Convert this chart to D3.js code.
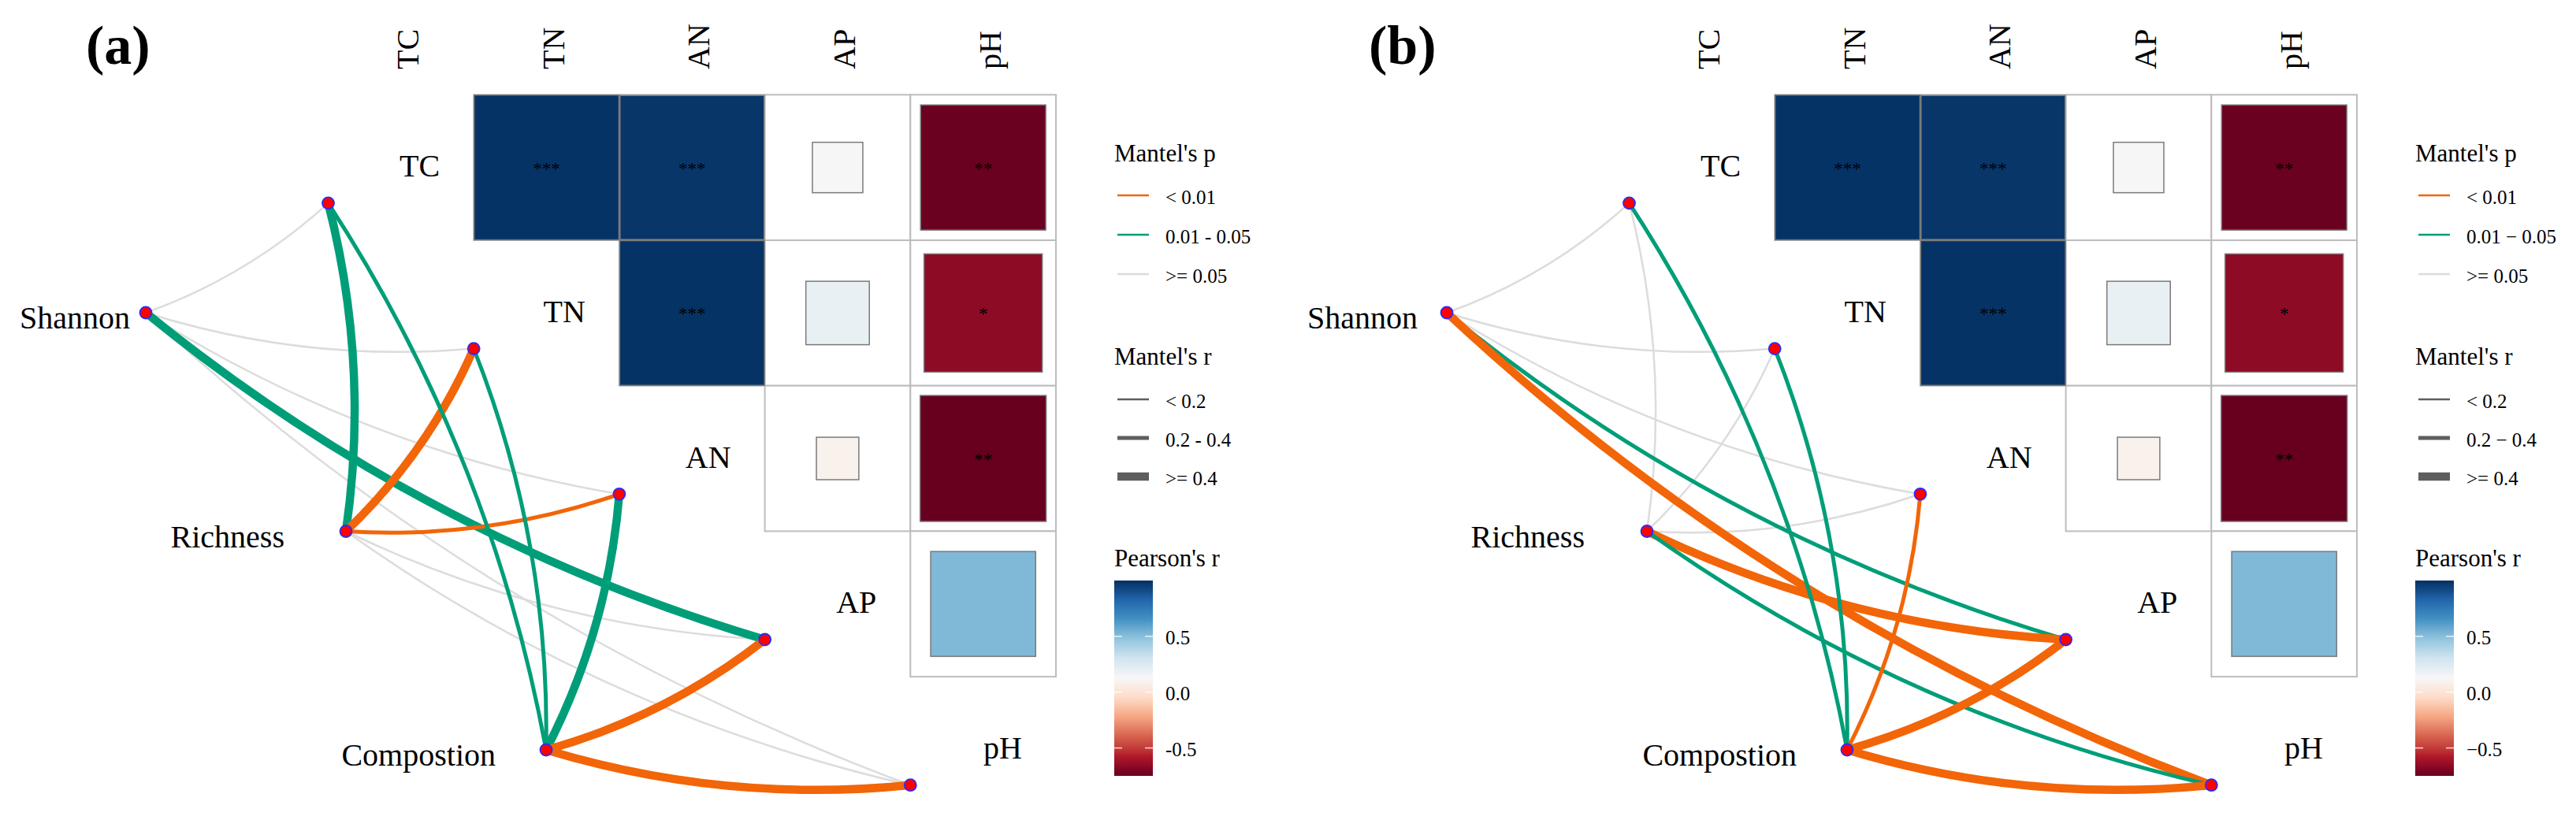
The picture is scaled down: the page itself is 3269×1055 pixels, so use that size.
<!DOCTYPE html>
<html>
<head>
<meta charset="utf-8">
<script src="https://cdn.jsdelivr.net/npm/d3@7"></script>
<style>
  html, body { margin: 0; padding: 0; background: #fff; }
  svg { display: block; }
  text { font-family: "Liberation Serif", "Times New Roman", serif; fill: #000; }
</style>
</head>
<body>
<svg id="chart" width="3269" height="1055"></svg>
<script>
// ---------------- DATA ----------------
const envVars = ["TC", "TN", "AN", "AP", "pH"];
const specVars = ["Shannon", "Richness", "Compostion"];

// Pearson's r between soil variables (symmetric, diagonal = 1)
const pearsonR = [
  [1.00, 0.99, 0.98, 0.12, -0.74],
  [0.99, 1.00, 0.99, 0.19, -0.66],
  [0.98, 0.99, 1.00, 0.085, -0.75],
  [0.12, 0.19, 0.085, 1.00, 0.52],
  [-0.74, -0.66, -0.75, 0.52, 1.00]
];
const pearsonStars = [
  ["", "***", "***", "", "**"],
  ["", "", "***", "", "*"],
  ["", "", "", "", "**"],
  ["", "", "", "", ""],
  ["", "", "", "", ""]
];

// Mantel tests, rows = specVars, cols = envVars
const mantelR_a = [
  [0.12, 0.10, 0.08, 0.46, 0.11],
  [0.43, 0.42, 0.31, 0.09, 0.12],
  [0.30, 0.28, 0.45, 0.47, 0.50]
];
const mantelP_a = [
  [0.21, 0.35, 0.42, 0.030, 0.18],
  [0.020, 0.004, 0.008, 0.31, 0.26],
  [0.030, 0.040, 0.020, 0.002, 0.001]
];
const mantelR_b = [
  [0.11, 0.09, 0.10, 0.31, 0.48],
  [0.08, 0.12, 0.10, 0.44, 0.29],
  [0.30, 0.28, 0.27, 0.46, 0.49]
];
const mantelP_b = [
  [0.25, 0.33, 0.29, 0.030, 0.003],
  [0.38, 0.22, 0.19, 0.004, 0.020],
  [0.030, 0.040, 0.006, 0.002, 0.001]
];

const pBreaks = [0.01, 0.05];
const rBreaks = [0.2, 0.4];
const pLabels_a = ["< 0.01", "0.01 - 0.05", ">= 0.05"];
const rLabels_a = ["< 0.2", "0.2 - 0.4", ">= 0.4"];
const pLabels_b = ["< 0.01", "0.01 \u2212 0.05", ">= 0.05"];
const rLabels_b = ["< 0.2", "0.2 \u2212 0.4", ">= 0.4"];
const barTicks = [-0.5, 0, 0.5];
const barTickLabels_a = ["-0.5", "0.0", "0.5"];
const barTickLabels_b = ["\u22120.5", "0.0", "0.5"];

// ---------------- STYLE / LAYOUT ----------------
const pColors = ["#F26508", "#009E78", "#DCDCDC"];
const rWidths = [2.5, 5, 10.5];
const rdbu = ["#67001F", "#B2182B", "#D6604D", "#F4A582", "#FDDBC7", "#F7F7F7",
              "#D1E5F0", "#92C5DE", "#4393C3", "#2166AC", "#053061"];
const serif = "'Liberation Serif', 'Times New Roman', serif";

const panels = [
  { tag: "(a)", tagX: 109, dx: 0, mR: mantelR_a, mP: mantelP_a, labelGap: [20, 78, 64],
    pLab: pLabels_a, rLab: rLabels_a, tickLab: barTickLabels_a },
  { tag: "(b)", tagX: 1737, dx: 1651, mR: mantelR_b, mP: mantelP_b, labelGap: [37, 79, 64],
    pLab: pLabels_b, rLab: rLabels_b, tickLab: barTickLabels_b }
];

const svg = d3.select("#chart");
svg.append("rect").attr("width", 3269).attr("height", 1055).attr("fill", "#fff");

const allR = pearsonR.flat();
const rMin = d3.min(allR), rMax = d3.max(allR);
const fillScale = d3.scaleLinear()
  .domain(rdbu.map((c, i) => rMin + i * (rMax - rMin) / (rdbu.length - 1)))
  .range(rdbu).interpolate(d3.interpolateLab);
const pColor = d3.scaleThreshold().domain(pBreaks).range(pColors);
const rWidth = d3.scaleThreshold().domain(rBreaks).range(rWidths);

// gradient for colour bar
const defs = svg.append("defs");
const grad = defs.append("linearGradient").attr("id", "pearsonGrad")
  .attr("x1", 0).attr("y1", 1).attr("x2", 0).attr("y2", 0);
d3.range(0, 1.0001, 0.025).forEach(t => {
  grad.append("stop").attr("offset", t).attr("stop-color", fillScale(rMin + t * (rMax - rMin)));
});

const cell = 184.7;

panels.forEach(P => {
  const g = svg.append("g").attr("transform", `translate(${P.dx},0)`);

  const x = d3.scaleBand().domain(envVars).range([416.5, 416.5 + 5 * cell]);
  const y = d3.scaleBand().domain(envVars).range([120.3, 120.3 + 5 * cell]);
  const bw = x.bandwidth();

  // panel tag
  svg.append("text").attr("x", P.tagX).attr("y", 81)
    .attr("font-size", 70).attr("font-weight", "bold").style("font-family", serif)
    .text(P.tag);

  // column labels (rotated)
  g.selectAll(".colLab").data(envVars).join("text")
    .attr("transform", d => `translate(${x(d) + bw / 2 + 22},88) rotate(-90)`)
    .attr("font-size", 40).style("font-family", serif)
    .text(d => d);

  // upper-triangle cells
  const cells = [];
  envVars.forEach((a, i) => envVars.forEach((b, j) => {
    if (j > i) cells.push({ row: a, col: b, r: pearsonR[i][j], s: pearsonStars[i][j] });
  }));

  g.selectAll(".gridCell").data(cells).join("rect")
    .attr("x", d => x(d.col)).attr("y", d => y(d.row))
    .attr("width", bw).attr("height", bw)
    .attr("fill", "#fff").attr("stroke", "#BDBDBD").attr("stroke-width", 2);

  g.selectAll(".sq").data(cells).join("rect")
    .attr("x", d => x(d.col) + bw / 2 - Math.sqrt(Math.abs(d.r)) * bw / 2)
    .attr("y", d => y(d.row) + bw / 2 - Math.sqrt(Math.abs(d.r)) * bw / 2)
    .attr("width", d => Math.sqrt(Math.abs(d.r)) * bw)
    .attr("height", d => Math.sqrt(Math.abs(d.r)) * bw)
    .attr("fill", d => fillScale(d.r))
    .attr("stroke", "#7A7A7A").attr("stroke-width", 1.5);

  g.selectAll(".star").data(cells.filter(d => d.s)).join("text")
    .attr("x", d => x(d.col) + bw / 2).attr("y", d => y(d.row) + bw / 2 + 9)
    .attr("text-anchor", "middle").attr("font-size", 23).style("font-family", serif)
    .text(d => d.s);

  // diagonal row labels
  g.selectAll(".rowLab").data(envVars).join("text")
    .attr("x", d => x(d) + bw - 43).attr("y", d => y(d) + bw / 2 + 11.5)
    .attr("text-anchor", "end").attr("font-size", 40).style("font-family", serif)
    .text(d => d);

  // nodes
  const envNode = e => ({ x: x(e), y: y(e) + 0.745 * bw });
  const sx = d3.scaleLinear().domain([0, specVars.length - 1]).range([185, 693]);
  const sy = d3.scaleLinear().domain([0, specVars.length - 1]).range([397, 952]);
  const specNode = i => ({ x: sx(i), y: sy(i) });

  const edges = [];
  specVars.forEach((s, i) => envVars.forEach((e, j) => {
    edges.push({ s: specNode(i), e: envNode(e), r: P.mR[i][j], p: P.mP[i][j] });
  }));
  edges.sort((a, b) => d3.descending(a.p >= 0.05 ? 1 : 0, b.p >= 0.05 ? 1 : 0));

  const curve = d => {
    const dx = d.e.x - d.s.x, dy = d.e.y - d.s.y;
    const L = Math.hypot(dx, dy);
    const mx = (d.s.x + d.e.x) / 2, my = (d.s.y + d.e.y) / 2;
    const k = 0.1;
    const cx = mx + (-dy / L) * k * L, cy = my + (dx / L) * k * L;
    const p = d3.path();
    p.moveTo(d.s.x, d.s.y);
    p.quadraticCurveTo(cx, cy, d.e.x, d.e.y);
    return p.toString();
  };

  g.selectAll(".edge").data(edges).join("path")
    .attr("d", curve).attr("fill", "none")
    .attr("stroke", d => pColor(d.p))
    .attr("stroke-width", d => rWidth(d.r));

  const nodes = specVars.map((s, i) => specNode(i)).concat(envVars.map(envNode));
  g.selectAll(".node").data(nodes).join("circle")
    .attr("cx", d => d.x).attr("cy", d => d.y).attr("r", 7.5)
    .attr("fill", "#FF0000").attr("stroke", "#2B2BFF").attr("stroke-width", 1.8);

  g.selectAll(".specLab").data(specVars).join("text")
    .attr("x", (d, i) => sx(i) - P.labelGap[i]).attr("y", (d, i) => sy(i) + 20)
    .attr("text-anchor", "end").attr("font-size", 40).style("font-family", serif)
    .text(d => d);

  // ---------- legends ----------
  const lg = g.append("g").attr("transform", "translate(1414,0)");
  lg.append("text").attr("x", 0).attr("y", 205).attr("font-size", 31).style("font-family", serif).text("Mantel's p");
  const pItems = pColors.map((c, i) => ({ c, lab: P.pLab[i], y: 248 + i * 50 }));
  lg.selectAll(".pl").data(pItems).join("line")
    .attr("x1", 4).attr("x2", 44).attr("y1", d => d.y).attr("y2", d => d.y)
    .attr("stroke", d => d.c).attr("stroke-width", 2.6);
  lg.selectAll(".pt").data(pItems).join("text")
    .attr("x", 65).attr("y", d => d.y + 11).attr("font-size", 25).style("font-family", serif)
    .text(d => d.lab);

  lg.append("text").attr("x", 0).attr("y", 463).attr("font-size", 31).style("font-family", serif).text("Mantel's r");
  const rItems = rWidths.map((w, i) => ({ w, lab: P.rLab[i], y: 507 + i * 49 }));
  lg.selectAll(".rl").data(rItems).join("line")
    .attr("x1", 4).attr("x2", 44).attr("y1", d => d.y).attr("y2", d => d.y)
    .attr("stroke", "#5E5E5E").attr("stroke-width", d => d.w);
  lg.selectAll(".rt").data(rItems).join("text")
    .attr("x", 65).attr("y", d => d.y + 11).attr("font-size", 25).style("font-family", serif)
    .text(d => d.lab);

  lg.append("text").attr("x", 0).attr("y", 719).attr("font-size", 31).style("font-family", serif).text("Pearson's r");
  const by = d3.scaleLinear().domain([rMax, rMin]).range([737, 985]);
  lg.append("rect").attr("x", 0).attr("y", by(rMax)).attr("width", 49)
    .attr("height", by(rMin) - by(rMax)).attr("fill", "url(#pearsonGrad)");
  barTicks.forEach((t, i) => {
    lg.append("line").attr("x1", 0).attr("x2", 10).attr("y1", by(t)).attr("y2", by(t))
      .attr("stroke", "#fff").attr("stroke-opacity", 0.8).attr("stroke-width", 1.5);
    lg.append("line").attr("x1", 39).attr("x2", 49).attr("y1", by(t)).attr("y2", by(t))
      .attr("stroke", "#fff").attr("stroke-opacity", 0.8).attr("stroke-width", 1.5);
    lg.append("text").attr("x", 65).attr("y", by(t) + 10).attr("font-size", 25)
      .style("font-family", serif).text(P.tickLab[i]);
  });
});
</script>
</body>
</html>
